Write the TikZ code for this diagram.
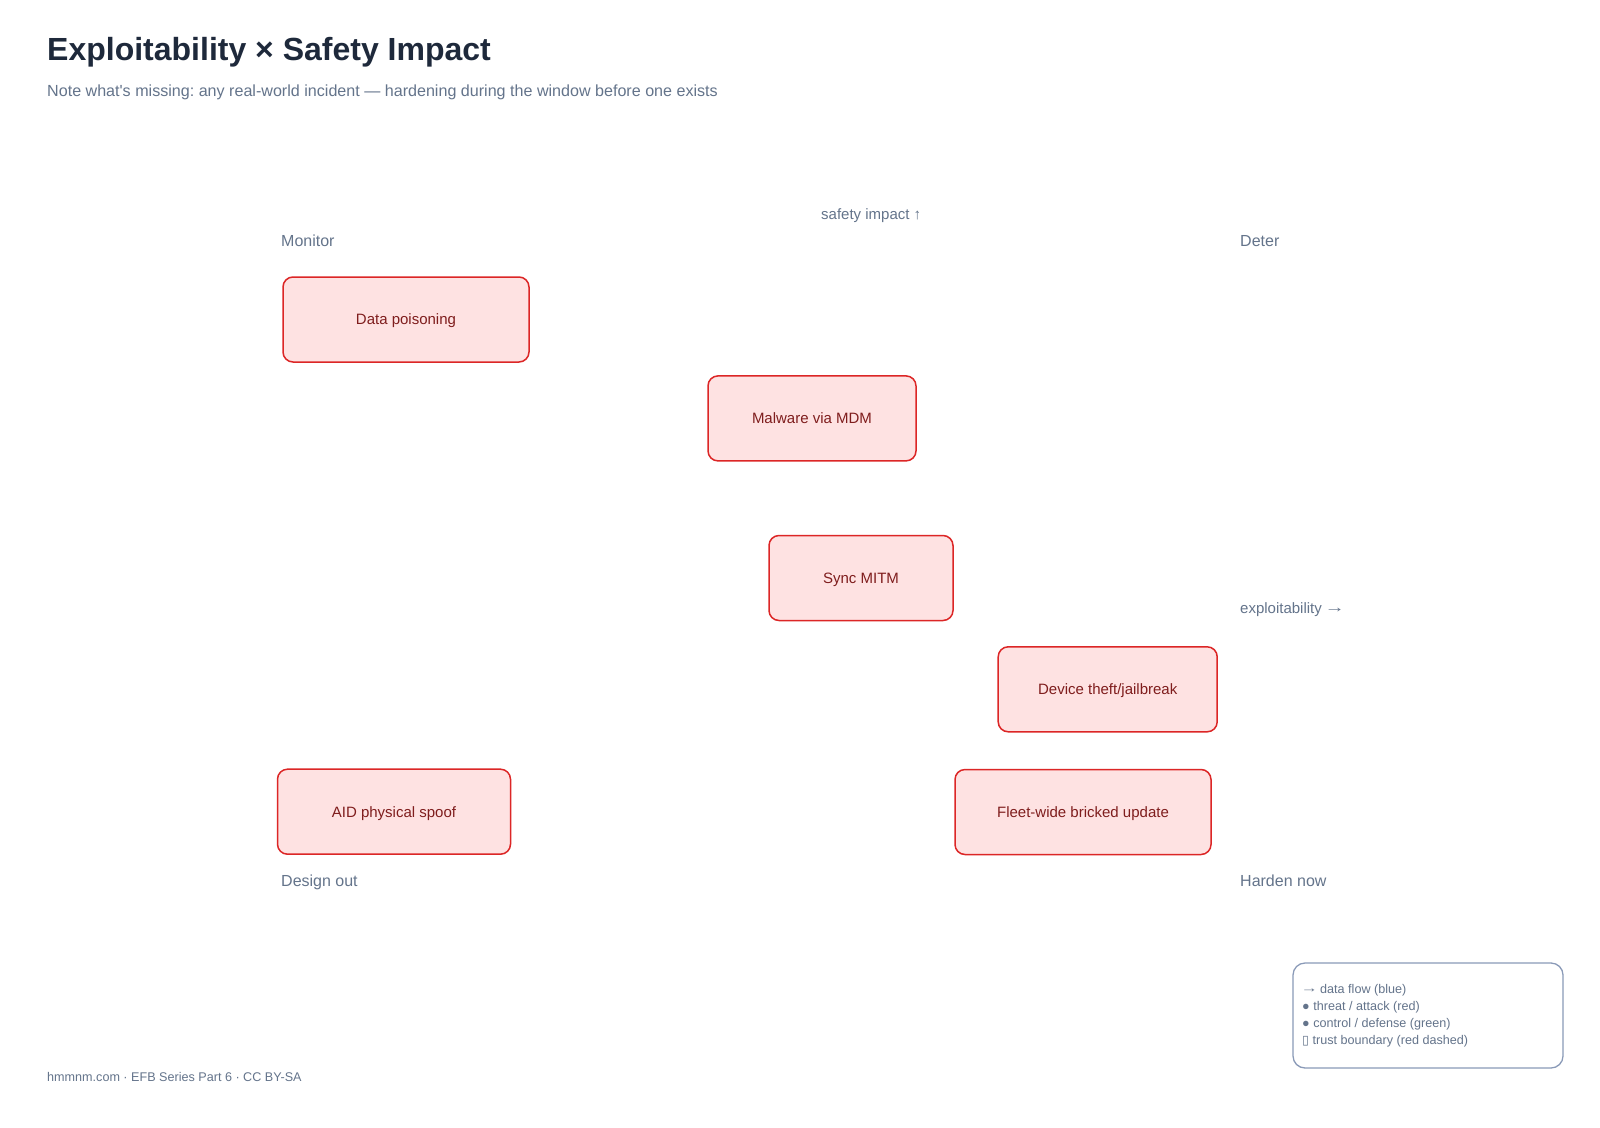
\documentclass[tikz,border=0pt]{standalone}
\usepackage{fontspec}
\setmainfont{Liberation Sans}
\newfontfamily\plainfont{Liberation Sans}
\newfontfamily\dejavu{DejaVu Sans}
\frenchspacing
\definecolor{titlec}{HTML}{1E293B}
\definecolor{muted}{HTML}{64748B}
\definecolor{thfill}{HTML}{FEE2E2}
\definecolor{thline}{HTML}{DC2626}
\definecolor{thtext}{HTML}{7F1D1D}
\definecolor{legline}{HTML}{8A9AB8}
\newcommand{\longarr}{\kern-0.1em\raisebox{0.1em}{\scalebox{1.35}[1]{→}}\kern-0.1em}
\begin{document}
\begin{tikzpicture}[x=1pt,y=-1pt,
  threat/.style={draw=thline, fill=thfill, line width=1.5pt, rounded corners=10pt,
    text=thtext, font=\fontsize{15}{18}\selectfont, inner sep=0pt,
    text height=10.8pt, text depth=0pt, align=center, minimum height=85pt},
  quadlbl/.style={anchor=west, inner sep=0pt, text=muted, font=\fontsize{16}{19}\selectfont,
    text height=11.5pt, text depth=0pt},
  axislbl/.style={anchor=west, inner sep=0pt, text=muted, font=\fontsize{15}{18}\selectfont,
    text height=10.8pt, text depth=0pt},
  legtext/.style={anchor=west, inner sep=0pt, text=muted, font=\fontsize{12.6}{15}\selectfont,
    text height=9pt, text depth=0pt},
  legbox/.style={draw=legline, fill=white, line width=1.3pt, rounded corners=12pt},
]
\useasboundingbox[fill=white] (0,0) rectangle (1600,1127);

% title and subtitle
\node[anchor=west, inner sep=0pt, text=titlec, font=\fontsize{32}{38}\selectfont\bfseries,
  text height=23pt, text depth=0pt] (title) at (47,49) {Exploitability × Safety Impact};
\node[anchor=west, inner sep=0pt, text=muted, font=\plainfont\fontsize{16.1}{19}\selectfont,
  text height=11.5pt, text depth=0pt] (subtitle) at (47,90.5)
  {Note what's missing: any real-world incident — hardening during the window before one exists};

% axis labels
\node[axislbl] (yaxis) at (821,214.3) {safety impact ↑};
\node[axislbl] (xaxis) at (1240,608.2) {exploitability \longarr};

% quadrant labels
\node[quadlbl] (monitor) at (281,240.8) {Monitor};
\node[quadlbl] (deter) at (1240,240.8) {Deter};
\node[quadlbl] (designout) at (281,880.6) {Design out};
\node[quadlbl] (harden) at (1240,880.6) {Harden now};

% threats
\node[threat, minimum width=246pt] (poison) at (406,319.5) {Data poisoning};
\node[threat, minimum width=208pt] (malware) at (812,418.4) {Malware via MDM};
\node[threat, minimum width=184pt] (mitm) at (861,578) {Sync MITM};
\node[threat, minimum width=219pt] (theft) at (1107.7,689.3) {Device theft/jailbreak};
\node[threat, minimum width=233pt] (aid) at (394,811.7) {AID physical spoof};
\node[threat, minimum width=256pt] (fleet) at (1083,812) {Fleet-wide bricked update};

% legend
\draw[legbox] (1293,963) rectangle (1563,1068);
\node[legtext] (leg1) at (1302,989) {\longarr{} data flow (blue)};
\node[legtext] (leg2) at (1302,1006) {● threat / attack (red)};
\node[legtext] (leg3) at (1302,1023) {● control / defense (green)};
\node[legtext] (leg4) at (1302,1040) {{\dejavu\fontsize{12.6}{15}\selectfont ▯} trust boundary (red dashed)};

% footer
\node[anchor=west, inner sep=0pt, text=muted, font=\fontsize{12.6}{15}\selectfont,
  text height=9.1pt, text depth=0pt] (footer) at (47,1076.5)
  {hmmnm.com · EFB Series Part 6 · CC BY-SA};
\end{tikzpicture}
\end{document}
